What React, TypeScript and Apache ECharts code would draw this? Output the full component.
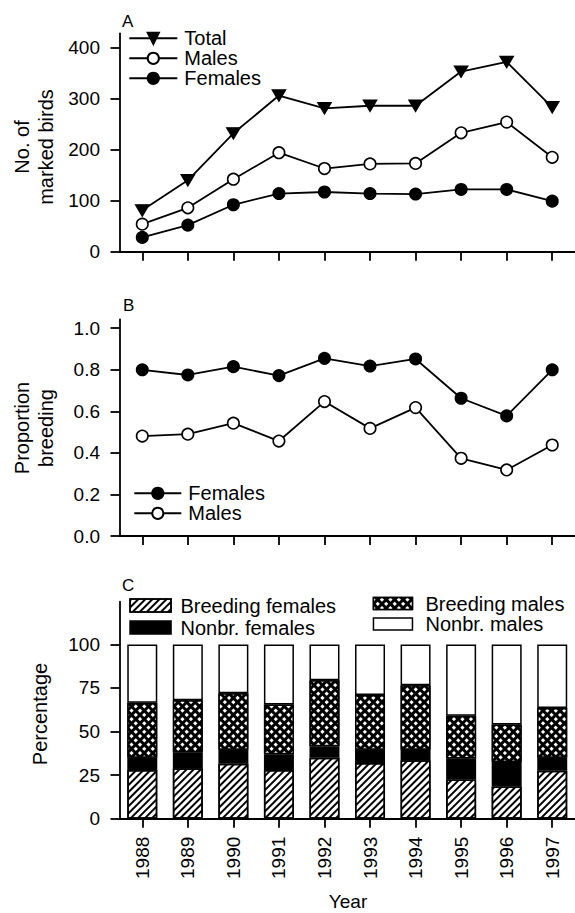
import React, { useEffect, useRef } from "react";
import * as echarts from "echarts";

const years = ["1988", "1989", "1990", "1991", "1992", "1993", "1994", "1995", "1996", "1997"];

// Panel A: number of marked birds
const totalBirds = [81, 140, 232, 306, 281, 286, 286, 353, 372, 283];
const maleBirds = [54, 86, 142, 194, 163, 172, 173, 233, 254, 185];
const femaleBirds = [28, 52, 92, 114, 117, 114, 113, 122, 122, 99];
const birdTicks = [0, 100, 200, 300, 400];

// Panel B: proportion breeding
const femaleProp = [0.8, 0.775, 0.815, 0.772, 0.855, 0.818, 0.852, 0.663, 0.578, 0.8];
const maleProp = [0.481, 0.49, 0.543, 0.457, 0.647, 0.518, 0.618, 0.374, 0.318, 0.438];
const propTicks = [0, 0.2, 0.4, 0.6, 0.8, 1.0];

// Panel C: percentage composition
const breedingFemalesPct = [28, 29, 31.5, 28, 35, 32, 33.5, 22.5, 18.5, 27.5];
const nonbrFemalesPct = [7, 9, 8, 9, 6.5, 7.5, 6, 12, 14, 7.5];
const breedingMalesPct = [31.5, 30, 32.5, 28.5, 38, 31.5, 37, 24.5, 21.5, 28.5];
const nonbrMalesPct = [33.5, 32, 28, 34.5, 20.5, 29, 23.5, 41, 46, 36.5];
const pctTicks = [0, 25, 50, 75, 100];

const FONT = "'Liberation Sans', Arial, Helvetica, sans-serif";

export default function App() {
  const ref = useRef<HTMLDivElement>(null);

  useEffect(() => {
    if (!ref.current) return;
    const chart = echarts.init(ref.current, undefined, { renderer: "svg" });

    const axisLineStyle = { color: "#000", width: 1.8 };
    const mkX = (gridIndex: number, showLabels: boolean) => ({
      type: "category",
      gridIndex,
      data: years,
      boundaryGap: true,
      axisLine: { show: true, lineStyle: axisLineStyle },
      axisTick: { show: true, alignWithLabel: true, length: 9, lineStyle: axisLineStyle },
      axisLabel: {
        show: showLabels,
        rotate: 90,
        margin: 18,
        fontSize: 19,
        fontFamily: FONT,
        color: "#000",
      },
      splitLine: { show: false },
    });
    const mkY = (gridIndex: number, max: number, ticks: number[], fmt: (v: number) => string) => ({
      type: "value",
      gridIndex,
      min: 0,
      max,
      axisLine: { show: true, lineStyle: axisLineStyle },
      axisTick: { show: true, length: 9, lineStyle: axisLineStyle, customValues: ticks },
      axisLabel: {
        show: true,
        margin: 19.5,
        fontSize: 19,
        fontFamily: FONT,
        color: "#000",
        customValues: ticks,
        formatter: fmt,
      },
      splitLine: { show: false },
    });

    const lineStyle = { color: "#000", width: 1.8 };
    const filled = { color: "#000", borderColor: "#000", borderWidth: 1.5 };
    const open = { color: "#fff", borderColor: "#000", borderWidth: 1.6 };

    const barBorder = { borderColor: "#000", borderWidth: 1.5 };

    const hatch = {
      symbol: "rect",
      symbolSize: 1,
      color: "#000",
      dashArrayX: [1, 0],
      dashArrayY: [1.8, 3],
      rotation: -Math.PI / 4,
    };
    const cross = {
      symbol: "rect",
      symbolSize: 1,
      color: "#fff",
      dashArrayX: [3, 2.4],
      dashArrayY: [3, 2.4],
      rotation: Math.PI / 4,
    };

    const legendText = (pad: number, lh: number) => ({
      fontSize: 20,
      fontFamily: FONT,
      color: "#000",
      lineHeight: lh,
      padding: [0, 0, 0, pad],
    });

    const option: any = {
      animation: false,
      backgroundColor: "#fff",
      grid: [
        { left: 119.5, right: 0, top: 33.3, height: 218.4 },
        { left: 119.5, right: 0, top: 319.3, height: 216.7 },
        { left: 119.5, right: 0, top: 601.7, height: 217 },
      ],
      xAxis: [mkX(0, false), mkX(1, false), mkX(2, true)],
      yAxis: [
        mkY(0, 428, birdTicks, (v: number) => String(Math.round(v))),
        mkY(1, 1.043, propTicks, (v: number) => v.toFixed(1)),
        mkY(2, 124.5, pctTicks, (v: number) => String(Math.round(v))),
      ],
      legend: [
        {
          orient: "vertical",
          left: 128.3,
          top: 28.3,
          padding: 0,
          itemWidth: 48,
          itemHeight: 14,
          itemGap: 0,
          selectedMode: false,
          textStyle: legendText(2, 20),
          data: ["Total", "Males", "Females"],
        },
        {
          orient: "vertical",
          left: 133.3,
          top: 483.3,
          padding: 0,
          itemWidth: 47,
          itemHeight: 14,
          itemGap: 0,
          selectedMode: false,
          textStyle: legendText(2, 20),
          data: ["Females", "Males"],
        },
        {
          orient: "vertical",
          left: 129.3,
          top: 594.5,
          padding: 0,
          itemWidth: 41,
          itemHeight: 13,
          itemGap: 0,
          icon: "rect",
          selectedMode: false,
          textStyle: legendText(4.4, 22),
          data: [
            { name: "Breeding females", itemStyle: { borderColor: "#000", borderWidth: 1.5 } },
            { name: "Nonbr. females", itemStyle: { borderColor: "#000", borderWidth: 1.5 } },
          ],
        },
        {
          orient: "vertical",
          left: 372.7,
          top: 593.3,
          padding: 0,
          itemWidth: 39,
          itemHeight: 12,
          itemGap: 0,
          icon: "rect",
          selectedMode: false,
          textStyle: legendText(8, 20.4),
          data: [
            { name: "Breeding males", itemStyle: { borderColor: "#000", borderWidth: 1.5 } },
            { name: "Nonbr. males", itemStyle: { borderColor: "#000", borderWidth: 1.5 } },
          ],
        },
      ],
      series: [
        {
          name: "Total",
          type: "line",
          xAxisIndex: 0,
          yAxisIndex: 0,
          data: totalBirds,
          symbol: "triangle",
          symbolRotate: 180,
          symbolSize: [13, 11],
          lineStyle,
          itemStyle: filled,
          silent: true,
        },
        {
          name: "Males",
          type: "line",
          xAxisIndex: 0,
          yAxisIndex: 0,
          data: maleBirds,
          symbol: "circle",
          symbolSize: 11.5,
          lineStyle,
          itemStyle: open,
          silent: true,
        },
        {
          name: "Females",
          type: "line",
          xAxisIndex: 0,
          yAxisIndex: 0,
          data: femaleBirds,
          symbol: "circle",
          symbolSize: 11.5,
          lineStyle,
          itemStyle: filled,
          silent: true,
        },
        {
          name: "Females",
          type: "line",
          xAxisIndex: 1,
          yAxisIndex: 1,
          data: femaleProp,
          symbol: "circle",
          symbolSize: 11.5,
          lineStyle,
          itemStyle: filled,
          silent: true,
        },
        {
          name: "Males",
          type: "line",
          xAxisIndex: 1,
          yAxisIndex: 1,
          data: maleProp,
          symbol: "circle",
          symbolSize: 11.5,
          lineStyle,
          itemStyle: open,
          silent: true,
        },
        {
          name: "Breeding females",
          type: "bar",
          stack: "pct",
          xAxisIndex: 2,
          yAxisIndex: 2,
          barWidth: 30,
          data: breedingFemalesPct,
          itemStyle: { color: "#fff", ...barBorder, decal: hatch },
          silent: true,
        },
        {
          name: "Nonbr. females",
          type: "bar",
          stack: "pct",
          xAxisIndex: 2,
          yAxisIndex: 2,
          barWidth: 30,
          data: nonbrFemalesPct,
          itemStyle: { color: "#000", ...barBorder },
          silent: true,
        },
        {
          name: "Breeding males",
          type: "bar",
          stack: "pct",
          xAxisIndex: 2,
          yAxisIndex: 2,
          barWidth: 30,
          data: breedingMalesPct,
          itemStyle: { color: "#000", ...barBorder, decal: cross },
          silent: true,
        },
        {
          name: "Nonbr. males",
          type: "bar",
          stack: "pct",
          xAxisIndex: 2,
          yAxisIndex: 2,
          barWidth: 30,
          data: nonbrMalesPct,
          itemStyle: { color: "#fff", ...barBorder },
          silent: true,
        },
      ],
      graphic: [
        { type: "text", x: 122, y: 21.5, style: { text: "A", fontSize: 17, fontFamily: FONT, fill: "#000", textAlign: "left", textVerticalAlign: "middle", align: "left", verticalAlign: "middle" } },
        { type: "text", x: 123, y: 305, style: { text: "B", fontSize: 17, fontFamily: FONT, fill: "#000", textAlign: "left", textVerticalAlign: "middle", align: "left", verticalAlign: "middle" } },
        { type: "text", x: 122, y: 585.5, style: { text: "C", fontSize: 17, fontFamily: FONT, fill: "#000", textAlign: "left", textVerticalAlign: "middle", align: "left", verticalAlign: "middle" } },
        { type: "text", x: 34, y: 147, rotation: Math.PI / 2, style: { text: "No. of\nmarked birds", fontSize: 20, lineHeight: 24, fontFamily: FONT, fill: "#000", textAlign: "center", textVerticalAlign: "middle", align: "center", verticalAlign: "middle" } },
        { type: "text", x: 34, y: 428, rotation: Math.PI / 2, style: { text: "Proportion\nbreeding", fontSize: 20, lineHeight: 24, fontFamily: FONT, fill: "#000", textAlign: "center", textVerticalAlign: "middle", align: "center", verticalAlign: "middle" } },
        { type: "text", x: 40, y: 714, rotation: Math.PI / 2, style: { text: "Percentage", fontSize: 20, fontFamily: FONT, fill: "#000", textAlign: "center", textVerticalAlign: "middle", align: "center", verticalAlign: "middle" } },
        { type: "text", x: 348, y: 901, style: { text: "Year", fontSize: 19, fontFamily: FONT, fill: "#000", textAlign: "center", textVerticalAlign: "middle", align: "center", verticalAlign: "middle" } },
      ],
    };

    chart.setOption(option);
    return () => {
      chart.dispose();
    };
  }, []);

  return (
    <div
      ref={ref}
      style={{ position: "absolute", left: 0, top: 0, width: 575, height: 913, background: "#fff" }}
    />
  );
}
